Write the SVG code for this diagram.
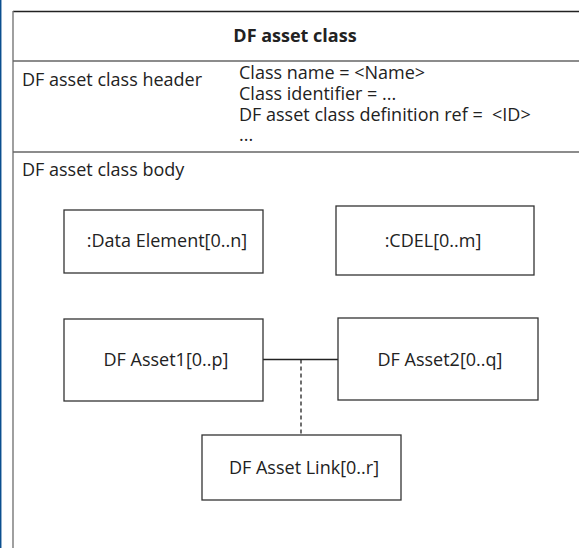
<svg xmlns="http://www.w3.org/2000/svg" width="579" height="548" viewBox="0 0 579 548">
  <style>
    text { font-family: "Open Sans", "Noto Sans", "Liberation Sans", sans-serif; font-size: 18px; fill: #222; }
    .title { font-weight: bold; }
    .c { text-anchor: middle; }
    .box { fill: #fff; stroke: #333; stroke-width: 1.3; }
    .div { stroke: #666; stroke-width: 1.6; fill: none; }
    .conn { stroke: #222; stroke-width: 1.3; fill: none; }
    .dash { stroke-dasharray: 4 3; }
  </style>
  <rect x="0" y="0" width="579" height="548" fill="#fff"/>
  <line x1="0.7" y1="0" x2="0.7" y2="548" stroke="#0b4f8f" stroke-width="1.5"/>
  <g id="frame">
    <line x1="13" y1="11.5" x2="579" y2="11.5" stroke="#222" stroke-width="1.3"/>
    <line x1="13" y1="11" x2="13" y2="548" stroke="#777" stroke-width="1.4"/>
    <line class="div" x1="13" y1="61" x2="579" y2="61"/>
    <line class="div" x1="13" y1="152" x2="579" y2="152"/>
    <text class="title c" x="295" y="42">DF asset class</text>
    <text x="22" y="86">DF asset class header</text>
    <text x="239" y="79">Class name = &lt;Name&gt;</text>
    <text x="239" y="99.5">Class identifier = ...</text>
    <text x="239" y="120.5" xml:space="preserve">DF asset class definition ref =  &lt;ID&gt;</text>
    <text x="239" y="141">...</text>
    <text x="22" y="176">DF asset class body</text>
  </g>
  <g id="connectors">
    <line class="conn" x1="263" y1="359.5" x2="338" y2="359.5"/>
    <line class="conn dash" x1="301" y1="359.5" x2="301" y2="435"/>
  </g>
  <g id="data-element">
    <rect class="box" x="64" y="210" width="199" height="63"/>
    <text class="c" x="167" y="247">:Data Element[0..n]</text>
  </g>
  <g id="cdel">
    <rect class="box" x="336" y="206" width="198" height="69"/>
    <text class="c" x="433" y="247">:CDEL[0..m]</text>
  </g>
  <g id="asset1">
    <rect class="box" x="64" y="319" width="199" height="82"/>
    <text class="c" x="166" y="366">DF Asset1[0..p]</text>
  </g>
  <g id="asset2">
    <rect class="box" x="338" y="318" width="200" height="82"/>
    <text class="c" x="440" y="366">DF Asset2[0..q]</text>
  </g>
  <g id="asset-link">
    <rect class="box" x="202" y="435" width="199" height="65"/>
    <text class="c" x="304" y="474">DF Asset Link[0..r]</text>
  </g>
</svg>
